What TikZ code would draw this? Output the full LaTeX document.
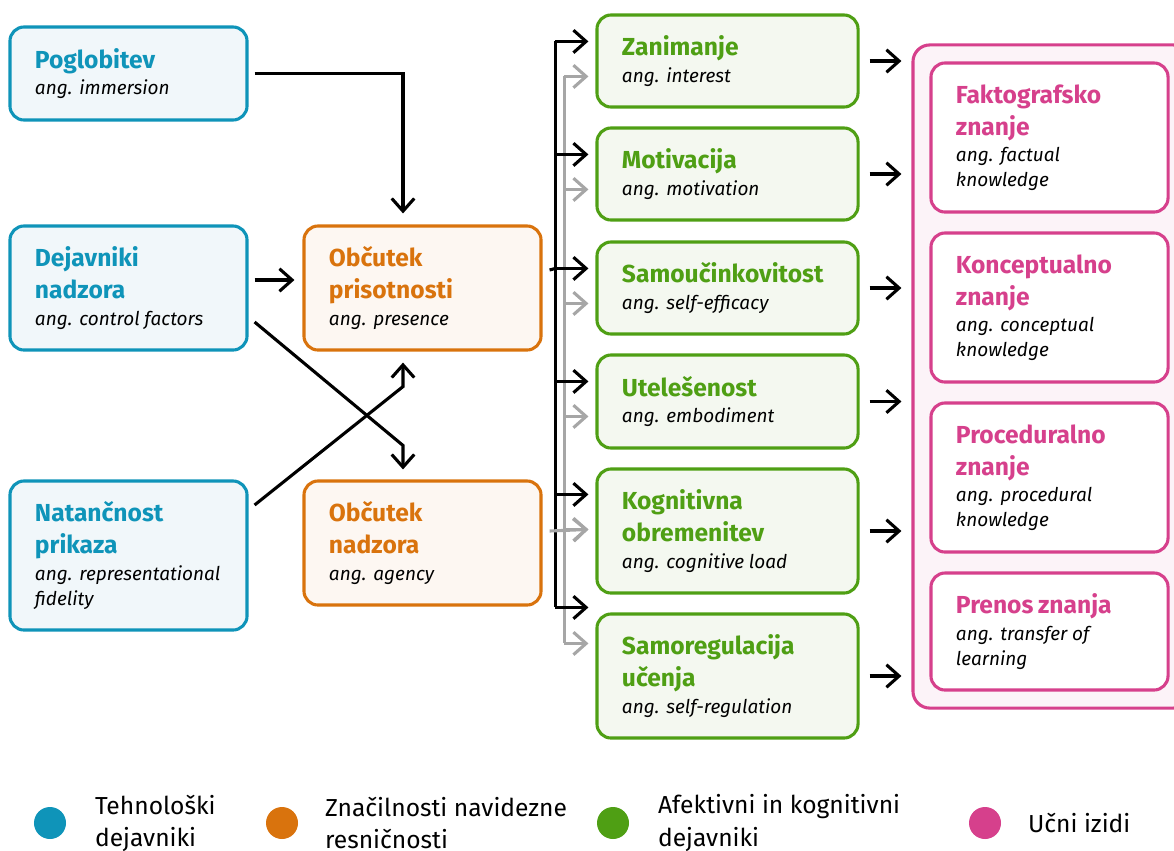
\documentclass[tikz,border=0pt]{standalone}
\usepackage{fontspec}
\setmainfont{Fira Sans}
\usetikzlibrary{arrows.meta,calc,positioning}
\definecolor{tehno}{HTML}{0F94B9}
\definecolor{tehnof}{HTML}{F1F7FA}
\definecolor{znac}{HTML}{D9730D}
\definecolor{znacf}{HTML}{FDF7F2}
\definecolor{afek}{HTML}{4F9F14}
\definecolor{afekf}{HTML}{F4F8F0}
\definecolor{izid}{HTML}{D6408C}
\definecolor{izidf}{HTML}{FCF3F8}
\definecolor{siva}{HTML}{A6A6A6}
\newcommand{\naslov}[2]{{\color{#1}\fontsize{17.5}{22.8}\selectfont\bfseries #2\par}\vskip1pt}
\newcommand{\angl}[1]{{\fontsize{13.5}{17.8}\selectfont\itshape #1\par}}

\begin{document}
\begin{tikzpicture}[x=0.025cm,y=-0.025cm,line width=2.2pt,>={Straight Barb[length=9pt,width=16pt]},
  polje/.style={draw,rounded corners=10pt,align=left,inner xsep=0.625cm,inner ysep=0pt},
  tbox/.style={polje,draw=tehno,fill=tehnof,text width=4.675cm},
  obox/.style={polje,draw=znac,fill=znacf,text width=4.675cm},
  gbox/.style={polje,draw=afek,fill=afekf,text width=5.275cm},
  pbox/.style={polje,draw=izid,fill=white,text width=4.675cm},
  krog/.style={circle,minimum size=0.8cm,inner sep=0pt},
  legenda/.style={align=left,inner sep=0pt,font=\fontsize{17.5}{22.8}\selectfont}]
\useasboundingbox (0,0) rectangle (1174,850);

% tehnoloski dejavniki
\node[tbox,minimum height=2.325cm] (pog) at (128.5,73.5) {\naslov{tehno}{Poglobitev}\angl{ang. immersion}};
\node[tbox,minimum height=3.1cm] (dej) at (128.5,288) {\naslov{tehno}{Dejavniki\\nadzora}\angl{ang. control factors}};
\node[tbox,minimum height=3.725cm] (nat) at (128.5,555.5) {\naslov{tehno}{Natančnost\\prikaza}\angl{ang. representational\\fidelity}};

% znacilnosti navidezne resnicnosti
\node[obox,minimum height=3.1cm] (pris) at (422.5,288) {\naslov{znac}{Občutek\\prisotnosti}\angl{ang. presence}};
\node[obox,minimum height=3.1cm] (agen) at (422.5,543) {\naslov{znac}{Občutek\\nadzora}\angl{ang. agency}};

% afektivni in kognitivni dejavniki
\node[gbox,minimum height=2.3cm] (zan) at (727.5,61) {\naslov{afek}{Zanimanje}\angl{ang. interest}};
\node[gbox,minimum height=2.3cm] (mot) at (727.5,174) {\naslov{afek}{Motivacija}\angl{ang. motivation}};
\node[gbox,minimum height=2.3cm] (sam) at (727.5,288) {\naslov{afek}{Samoučinkovitost}\angl{ang. self-efficacy}};
\node[gbox,minimum height=2.325cm] (ute) at (727.5,401.5) {\naslov{afek}{Utelešenost}\angl{ang. embodiment}};
\node[gbox,minimum height=3.1cm] (kog) at (727.5,531) {\naslov{afek}{Kognitivna\\obremenitev}\angl{ang. cognitive load}};
\node[gbox,minimum height=3.1cm] (reg) at (727.5,676) {\naslov{afek}{Samoregulacija\\učenja}\angl{ang. self-regulation}};

% ucni izidi
\node[draw=izid,fill=izidf,rounded corners=12pt,minimum width=6.925cm,minimum height=16.575cm,inner sep=0pt] (izidi) at (1051.5,376.5) {};
\node[pbox,minimum height=3.725cm] (fak) at (1049.5,137.5) {\naslov{izid}{Faktografsko\\znanje}\angl{ang. factual\\knowledge}};
\node[pbox,minimum height=3.725cm] (kon) at (1049.5,307.5) {\naslov{izid}{Konceptualno\\znanje}\angl{ang. conceptual\\knowledge}};
\node[pbox,minimum height=3.725cm] (pro) at (1049.5,477.5) {\naslov{izid}{Proceduralno\\znanje}\angl{ang. procedural\\knowledge}};
\node[pbox,minimum height=2.925cm] (pre) at (1049.5,631.5) {\naslov{izid}{Prenos znanja}\angl{ang. transfer of\\learning}};

% povezave
\draw[->] ($(pog.east)+(6,0)$) -| ($(pris.north)+(-19.5,-11)$);
\draw[->] ($(dej.east)+(6,-8)$) -- ($(pris.west)+(-8,-8)$);
\draw[->] ($(dej.east)+(6,34)$) -- ($(agen.north)+(-19.5,-34)$) -- ($(agen.north)+(-19.5,-10)$);
\draw[->] ($(nat.east)+(6,-50.5)$) -- ($(pris.south)+(-19.5,35)$) -- ($(pris.south)+(-19.5,11)$);

\draw[siva] ($(zan.north west)+(-31,63)$) -- ($(reg.north west)+(-31,31)$);
\draw ($(zan.north west)+(-40,28)$) -- ($(reg.north west)+(-40,-5)$);
\draw ($(pris.east)+(7,-18)$) -- ($(sam.north west)+(-40,28)$);
\draw[->,siva] ($(agen.east)+(7,-12)$) -- ($(kog.north west)+(-7,62)$);
\foreach \n/\b/\g in {zan/28/63,mot/28/63,sam/28/63,ute/28/63,kog/27/62,reg/-5/31}{
  \draw[->] ($(\n.north west)+(-40,\b)$) -- ++(33,0);
  \draw[->,siva] ($(\n.north west)+(-31,\g)$) -- ++(24,0);
}
\foreach \n in {zan,mot,sam,ute,kog,reg}
  \draw[->] ($(\n.east)+(10,0)$) -- ($(\n.east -| izidi.west)+(-10,0)$);

% legenda
\node[krog,fill=tehno] (l1) at (50,823) {};
\node[legenda,right=0.65cm of l1] {Tehnološki\\dejavniki};
\node[krog,fill=znac] (l2) at (282,823) {};
\node[legenda,right=0.6cm of l2] {Značilnosti navidezne\\resničnosti};
\node[krog,fill=afek] (l3) at (613,823) {};
\node[legenda,right=0.65cm of l3] {Afektivni in kognitivni\\dejavniki};
\node[krog,fill=izid] (l4) at (985,823) {};
\node[legenda,right=0.6cm of l4] {Učni izidi};
\end{tikzpicture}
\end{document}
